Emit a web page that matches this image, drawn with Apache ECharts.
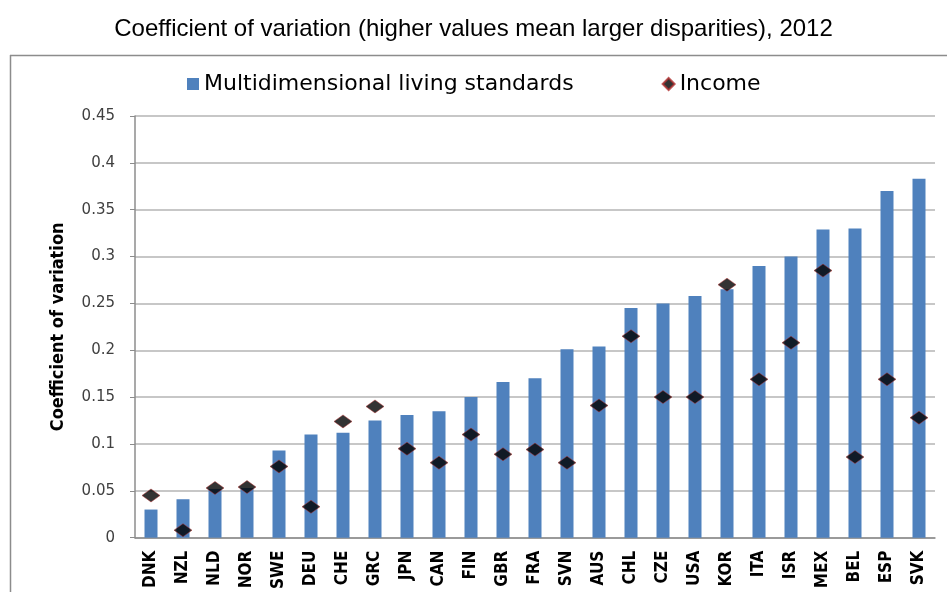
<!DOCTYPE html>
<html>
<head>
<meta charset="utf-8">
<script src="https://cdn.jsdelivr.net/npm/echarts@6/dist/echarts.min.js"></script>
<style>
  html, body { margin: 0; padding: 0; background: #fff; }
  #chart { width: 947px; height: 592px; }
</style>
</head>
<body>
<div id="chart"></div>
<script>
const countries = ['DNK', 'NZL', 'NLD', 'NOR', 'SWE', 'DEU', 'CHE', 'GRC', 'JPN', 'CAN', 'FIN', 'GBR', 'FRA',
  'SVN', 'AUS', 'CHL', 'CZE', 'USA', 'KOR', 'ITA', 'ISR', 'MEX', 'BEL', 'ESP', 'SVK']
// Multidimensional living standards (bars)
const livingStd = [0.030, 0.041, 0.052, 0.053, 0.093, 0.110, 0.112, 0.125, 0.131, 0.135, 0.150, 0.166, 0.170,
  0.201, 0.204, 0.245, 0.250, 0.258, 0.265, 0.290, 0.300, 0.329, 0.330, 0.370, 0.383]
// Income (diamonds)
const income = [0.045, 0.008, 0.053, 0.054, 0.076, 0.033, 0.124, 0.140, 0.095, 0.080, 0.110, 0.089, 0.094,
  0.080, 0.141, 0.215, 0.150, 0.150, 0.270, 0.169, 0.208, 0.285, 0.086, 0.169, 0.128]

const chart = echarts.init(document.getElementById('chart'))
const boldNarrow = 'Liberation Sans Narrow, DejaVu Sans Condensed, Liberation Sans'
const option = {
  animation: false,
  title: {
    text: 'Coefficient of variation (higher values mean larger disparities), 2012',
    left: 'center',
    top: 12,
    textStyle: { fontFamily: 'Liberation Sans, Arial', fontSize: 24, fontWeight: 'normal', color: '#000' }
  },
  graphic: [
    // chart frame (top and left border)
    { type: 'line', shape: { x1: 10, y1: 55.5, x2: 947, y2: 55.5 }, style: { stroke: '#8c8c8c', lineWidth: 1.5 } },
    { type: 'line', shape: { x1: 10.5, y1: 55, x2: 10.5, y2: 592 }, style: { stroke: '#8c8c8c', lineWidth: 1.5 } }
  ],
  legend: {
    top: 68,
    left: 182,
    itemGap: 88,
    itemWidth: 12,
    itemHeight: 12,
    textStyle: { fontFamily: 'DejaVu Sans', fontSize: 22, color: '#000' },
    data: [
      { name: 'Multidimensional living standards', icon: 'rect' },
      { name: 'Income', icon: 'diamond' }
    ]
  },
  grid: { left: 135, right: 12, top: 116, bottom: 51 },
  xAxis: {
    type: 'category',
    data: countries,
    axisLine: { lineStyle: { color: '#8c8c8c', width: 1.5 } },
    axisTick: { show: false },
    axisLabel: {
      interval: 0,
      rotate: 90,
      margin: 13,
      fontFamily: boldNarrow,
      fontWeight: 'bold',
      fontSize: 17,
      color: '#000'
    }
  },
  yAxis: {
    type: 'value',
    min: 0,
    max: 0.45,
    interval: 0.05,
    name: 'Coefficient of variation',
    nameLocation: 'middle',
    nameRotate: 90,
    nameGap: 68,
    nameTextStyle: {
      fontFamily: boldNarrow,
      fontWeight: 'bold',
      fontSize: 18,
      color: '#000'
    },
    axisLine: { show: true, lineStyle: { color: '#8c8c8c', width: 1.5 } },
    axisTick: { show: true, inside: false, length: 5, lineStyle: { color: '#8c8c8c' } },
    axisLabel: {
      margin: 20,
      fontFamily: 'DejaVu Sans',
      fontSize: 15,
      color: '#404040',
      formatter: v => (v === 0 ? '0' : String(+v.toFixed(2)))
    },
    splitLine: { lineStyle: { color: '#b4b4b4', width: 1.5 } }
  },
  series: [
    {
      name: 'Multidimensional living standards',
      type: 'bar',
      data: livingStd,
      barWidth: 13,
      itemStyle: { color: '#4f81bd' }
    },
    {
      name: 'Income',
      type: 'scatter',
      data: income,
      symbol: 'diamond',
      symbolSize: [18, 13],
      itemStyle: { color: '#000', borderColor: '#b03030', borderWidth: 0.6 },
      z: 5
    }
  ]
}
chart.setOption(option)
</script>
</body>
</html>
